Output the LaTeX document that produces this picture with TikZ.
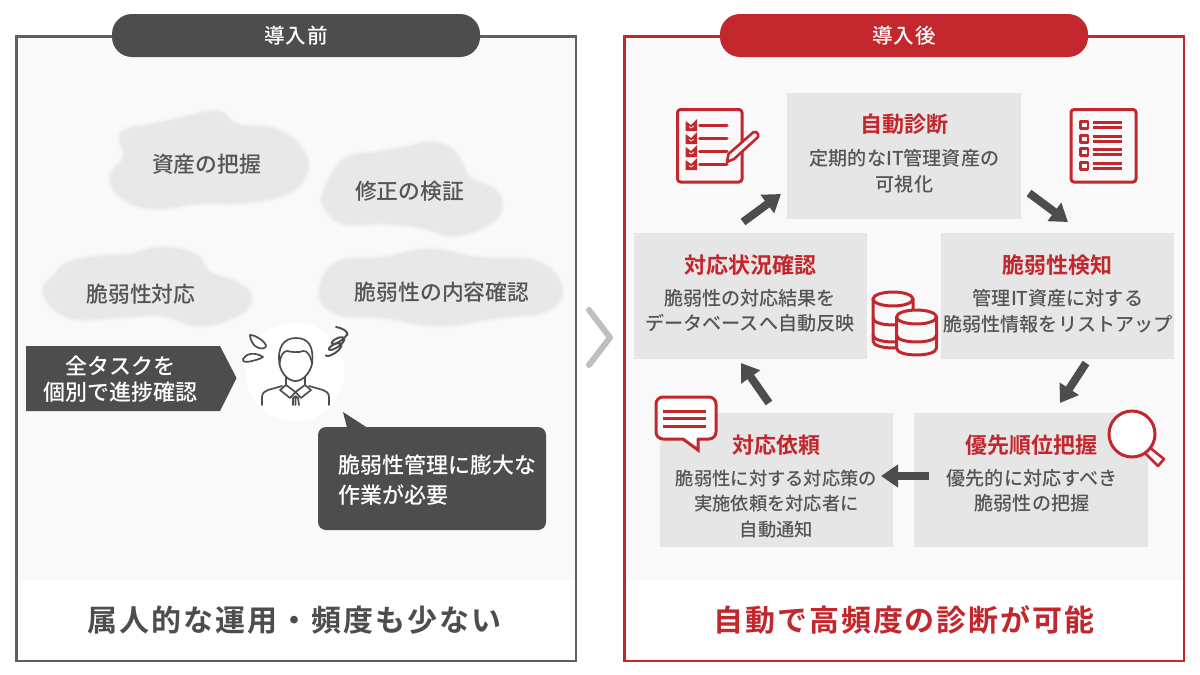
\documentclass[tikz,border=0pt]{standalone}
\usepackage{fontspec}
\setmainfont{Noto Sans CJK JP Medium}[BoldFont={Noto Sans CJK JP Bold}]
\newfontfamily\tight{Noto Sans CJK JP Medium}[LetterSpace=5,BoldFont={Noto Sans CJK JP Bold}]
\newfontfamily\wide{Noto Sans CJK JP Bold}[LetterSpace=6.5]
\usetikzlibrary{arrows.meta,calc}
\definecolor{dk}{HTML}{4D4D4D}
\definecolor{txt}{HTML}{555555}
\definecolor{rd}{HTML}{C1272D}
\definecolor{pan}{HTML}{F9F9F9}
\definecolor{bx}{HTML}{E6E6E6}
\definecolor{cld}{HTML}{E8E8E8}
\tikzset{
  x=1pt,y=-1pt,
  pill/.style={rounded corners=20pt,draw=none},
  cardbox/.style={fill=bx,draw=none,minimum width=233.5pt,inner sep=0pt,outer sep=0pt},
  head/.style={text=rd,font=\fontsize{22}{26}\selectfont\bfseries,inner sep=0pt},
  body/.style={text=txt,font=\fontsize{19.1}{25.4}\selectfont,align=center,inner sep=0pt},
  tag/.style={text=txt,font=\fontsize{21.8}{26}\selectfont,inner sep=0pt},
  wht/.style={text=white,font=\fontsize{22}{30}\selectfont,inner sep=0pt},
  flow/.style={draw=dk,line width=8pt,-{Triangle[length=17pt,width=22pt]}},
  ico/.style={draw=rd,line width=3pt,line join=round,line cap=round},
  per/.style={draw=dk,line width=1.7pt,line join=round,line cap=round},
}
\newcommand\blob[1]{%
  \draw[draw=cld!20!pan,line width=7pt,line join=round] plot[smooth cycle,tension=.7] coordinates {#1};
  \draw[draw=cld!45!pan,line width=4.5pt,line join=round] plot[smooth cycle,tension=.7] coordinates {#1};
  \draw[draw=cld!70!pan,line width=2pt,line join=round] plot[smooth cycle,tension=.7] coordinates {#1};
  \fill[cld] plot[smooth cycle,tension=.7] coordinates {#1};}
\newcommand\dbcyl[6]{% cx rx ry top bottom, bands
  \filldraw[ico,fill=pan] (#1-#2,#4) -- (#1-#2,#5) .. controls (#1-#2,#5+#3*1.33) and (#1+#2,#5+#3*1.33) .. (#1+#2,#5) -- (#1+#2,#4);
  \foreach \b in {#6}{\draw[ico] (#1-#2,\b) .. controls (#1-#2,\b+#3*1.33) and (#1+#2,\b+#3*1.33) .. (#1+#2,\b);}
  \filldraw[ico,fill=pan] (#1,#4) ellipse [x radius=#2,y radius=#3];}
\begin{document}
\begin{tikzpicture}
\useasboundingbox (0,0) rectangle (1200,675);
\fill[white] (0,0) rectangle (1200,675);
% panels
\fill[pan] (17,37) rectangle (575,580);
\fill[pan] (625,37) rectangle (1183,580);
\draw[draw=dk!90!white,line width=2.4pt] (16.5,36.5) rectangle (576,661);
\draw[draw=rd,line width=2.4pt] (624.5,36.5) rectangle (1184,661);
\fill[dk,pill] (112,14) rectangle (480,57);
\fill[rd,pill] (720,14) rectangle (1088,57);
\node[text=white,font=\fontsize{20.6}{24}\selectfont\tight,inner sep=0pt] (before) at (296,36) {導入前};
\node[text=white,font=\fontsize{20.6}{24}\selectfont\tight,inner sep=0pt] (after) at (904,36) {導入後};
% clouds
\blob{(122,133)(153,125)(184,118)(218,112)(237,125)(276,130)(302,150)(306,173)(287,193)(245,202)(199,203)(153,208)(122,197)(111,177)(124,157)}
\blob{(344,160)(375,153)(406,148)(432,143)(455,153)(469,177)(494,190)(501,207)(490,223)(455,235)(421,227)(383,223)(344,223)(325,207)(325,190)}
\blob{(69,263)(99,257)(130,255)(161,248)(195,255)(210,273)(237,283)(251,298)(237,315)(199,325)(161,315)(115,317)(69,317)(44,293)(57,273)}
\blob{(337,263)(383,258)(429,250)(478,258)(536,262)(561,287)(547,310)(497,317)(440,325)(383,317)(337,313)(320,293)}
\node[tag] (c1) at (206.5,164) {資産の把握};
\node[tag] (c2) at (409.5,191) {修正の検証};
\node[tag] (c3) at (141,294) {脆弱性対応};
\node[tag] (c4) at (442,292) {脆弱性の内容確認};
% person
\fill[white] (295,372) circle [radius=49.5];
\draw[per] (279.5,364) .. controls (277,347) and (284,338) .. (296,338) .. controls (309,338) and (314,347) .. (312,364);
\draw[per] (279.5,364) .. controls (280,357) and (283,351) .. (287,351) .. controls (291,352) and (299,353) .. (303,351) .. controls (307,350) and (311,356) .. (312,364);
\draw[per] (279.5,364) .. controls (281,373) and (288,381) .. (295.5,381) .. controls (303,381) and (310,373) .. (312,364);
\draw[per] (286,377) -- (286,385) (305,377) -- (305,385);
\draw[per] (262,405) -- (262,397) .. controls (262,393) and (265,391) .. (268,390) -- (282,386);
\draw[per] (329,405) -- (329,397) .. controls (329,393) and (326,391) .. (323,390) -- (309,386);
\draw[per] (286,385) -- (280,390) -- (290,398) -- (295.5,392) -- (301,398) -- (311,390) -- (305,385);
\draw[per] (286,385) -- (295.5,392) -- (305,385);
\draw[per] (293,405) -- (293,398) -- (295.5,396) -- (298,398) -- (299,405) (295.5,398) -- (295.5,405);
\draw[per] (250,335) .. controls (256,335) and (264,341) .. (266,345) .. controls (267,349) and (260,350) .. (255,346) .. controls (252,343) and (250,339) .. (250,335) -- cycle;
\draw[per] (263,357) .. controls (256,352) and (246,353) .. (243,359) .. controls (242,363) and (248,362) .. (252,361) .. controls (256,360) and (260,359) .. (263,357) -- cycle;
\draw[per,line width=1.9pt] (336,327) .. controls (342,328) and (348,331) .. (347.5,335);
\draw[per,line width=1.9pt] plot[smooth,domain=0.5:16,samples=90] ({340-7*(\x-.5)/15.5+8*.85*cos(\x r)+3*.5*sin(\x r)},{337+15*(\x-.5)/15.5-8*.5*cos(\x r)+3*.85*sin(\x r)});
% banner
\fill[dk] (26,346) coordinate (ban) -- (220,346) -- (236.5,378) -- (220,411) -- (26,411) -- cycle;
\node[wht,align=center,font=\fontsize{22}{26}\selectfont] (bantext) at (120,379.5) {全タスクを\\個別で進捗確認};
% callout
\fill[dk,rounded corners=8pt] (318,427) rectangle (546,530);
\fill[dk] (343,412) -- (367,427.5) -- (347,427.5) -- cycle;
\node[wht,align=left,anchor=west] (calltext) at (338,480) {脆弱性管理に膨大な\\作業が必要};
% chevron
\draw[draw=black!25,line width=6pt,line cap=round,line join=round] (589,310) -- (610,337.5) -- (589,365);
% bottom titles
\node[text=dk,font=\fontsize{30}{32}\selectfont\wide,inner sep=0pt] (t1) at (294.5,620) {属人的な運用・頻度も少ない};
\node[text=rd,font=\fontsize{30}{32}\selectfont\wide,inner sep=0pt] (t2) at (904,620) {自動で高頻度の診断が可能};
% cards
\node[cardbox,minimum height=126pt] (b1) at (904,156) {};
\node[cardbox,minimum height=126pt] (b2) at (1057.5,296) {};
\node[cardbox,minimum height=134pt] (b3) at (1031,480) {};
\node[cardbox,minimum height=134pt] (b4) at (776.5,480) {};
\node[cardbox,minimum height=126pt] (b5) at (750.5,296) {};
\node[head] (h1) at (904,124) {自動診断};
\node[body] (d1) at (904.5,171) {定期的なIT管理資産の\\可視化};
\node[head] (h2) at (1057,265) {脆弱性検知};
\node[body] (d2) at (1058,311) {管理IT資産に対する\\脆弱性情報をリストアップ};
\node[head] (h3) at (1031,445) {優先順位把握};
\node[body] (d3) at (1032,491) {優先的に対応すべき\\脆弱性の把握};
\node[head] (h4) at (776,445) {対応依頼};
\node[body,font=\fontsize{18.3}{25.4}\selectfont] (d4) at (776.5,504) {脆弱性に対する対応策の\\実施依頼を対応者に\\自動通知};
\node[head] (h5) at (750,265) {対応状況確認};
\node[body] (d5) at (750,311) {脆弱性の対応結果を\\データベースへ自動反映};
% flow arrows
\coordinate (a1s) at (743,222); \coordinate (a1e) at (781,194);
\coordinate (a2s) at (1029,193); \coordinate (a2e) at (1068,222);
\coordinate (a3s) at (1086,363); \coordinate (a3e) at (1060,403);
\coordinate (a4s) at (929,476); \coordinate (a4e) at (881,476);
\coordinate (a5s) at (769,403); \coordinate (a5e) at (741,363);
\draw[flow] (a1s) -- (a1e);
\draw[flow] (a2s) -- (a2e);
\draw[flow] (a3s) -- (a3e);
\draw[flow] (a4s) -- (a4e);
\draw[flow] (a5s) -- (a5e);
% checklist icon
\draw[ico,fill=pan,rounded corners=3pt] (677.5,109.5) rectangle (742,182);
\foreach \y in {125,138,151,164}{
  \draw[ico] (699.5,\y) -- (727,\y);
  \fill[rd] (685.5,\y-4) -- (691,\y) -- (697,\y-6) -- (697,\y+6) -- (685.5,\y+6) -- cycle;
  \draw[draw=pan,line width=.7pt] (689,\y+1.5) -- (691,\y+3) -- (694,\y+1);
}
\draw[ico,fill=pan,line width=2.6pt] (727,162) -- (728.5,154) -- (753,132.5) .. controls (755,131) and (757,132) .. (758,134) .. controls (759,136) and (758,137) .. (757,138) -- (734,159) -- cycle;
% list icon
\draw[ico,rounded corners=3pt] (1071,109.5) rectangle (1136,182);
\foreach \y in {125,139,152,166}{
  \draw[ico,line width=2.4pt] (1080.5,\y-3.5) rectangle (1088,\y+3.5);
  \draw[ico,line width=2.4pt,line cap=butt] (1093,\y-2.5) -- (1122,\y-2.5) (1093,\y+2.5) -- (1122,\y+2.5);
}
% database icon
\dbcyl{893}{20}{7}{299}{341}{318,335}
\dbcyl{916.5}{20}{7}{317}{348}{335}
% speech bubble icon
\draw[ico,fill=white,rounded corners=7pt] (683,439) -- (656,439) -- (656,397) -- (716,397) -- (716,439) -- (698,439);
\fill[white] (683,437) -- (698,437) -- (698,449) -- cycle;
\draw[ico,line join=miter] (683,439) -- (698,450) -- (698,439);
\draw[ico,line cap=butt] (663,411) -- (706,411) (663,418.5) -- (706,418.5) (663,426) -- (706,426);
% magnifier icon
\draw[ico,fill=white,line width=2.6pt] (1149,447) -- (1164,459) -- (1158,466) -- (1144,452) -- cycle;
\draw[ico,fill=white] (1132,434) circle [radius=23];
\end{tikzpicture}
\end{document}
